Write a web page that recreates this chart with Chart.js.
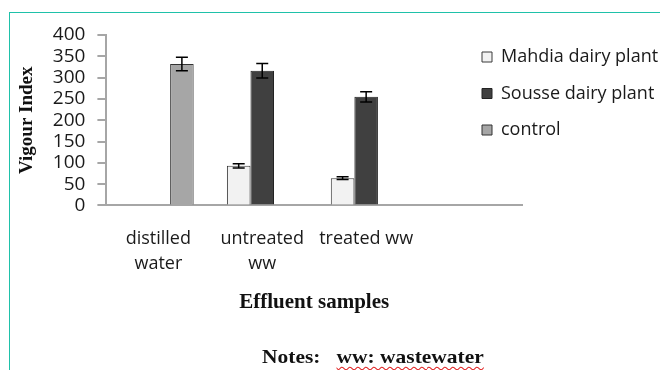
<!DOCTYPE html>
<html>
<head>
<meta charset="utf-8">
<script src="https://cdn.jsdelivr.net/npm/chart.js@4/dist/chart.umd.min.js"></script>
<style>
  body { margin: 0; background: #fff; }
  #wrap { position: relative; width: 660px; height: 370px; overflow: hidden; }
  #frame { position: absolute; left: 9px; top: 12px; width: 660px; height: 370px;
           border-top: 1px solid #1fc1a9; border-left: 1.5px solid #1fc1a9; }
  #notes { position: absolute; left: 262px; top: 346px; font: bold 19px "Liberation Serif", serif;
           color: #111; white-space: pre; transform: scaleX(1.13); transform-origin: 0 0; }
  #notes span { text-decoration: underline wavy #e02020; text-decoration-thickness: 1px; text-underline-offset: 3px; }
  canvas { position: absolute; left: 0; top: 0; }
</style>
</head>
<body>
<div id="wrap">
  <div id="frame"></div>
  <canvas id="barChart" width="660" height="370"></canvas>
  <div id="notes">Notes:   <span>ww: wastewater</span></div>
</div>
<script>
"use strict";

const categories = [['distilled', 'water'], ['untreated', 'ww'], 'treated ww', ''];
const seriesNames = ['Mahdia dairy plant', 'Sousse dairy plant', 'control'];
const mahdia = [null, 93, 64, null];
const sousse = [null, 316, 255, null];
const control = [332, null, null, null];
const mahdiaErr = [null, 5, 3, null];
const sousseErr = [null, 17, 12, null];
const controlErr = [16, null, null, null];
const yTicks = [0, 50, 100, 150, 200, 250, 300, 350, 400];

const errors = [mahdiaErr, sousseErr, controlErr];

// draws the error bars from the y scale
const errorBars = {
    id: 'errorBars',
    afterDatasetsDraw(chart) {
        const ctx = chart.ctx;
        const y = chart.scales.y;
        ctx.save();
        ctx.strokeStyle = '#000';
        ctx.lineWidth = 1.5;
        chart.data.datasets.forEach((ds, i) => {
            const meta = chart.getDatasetMeta(i);
            ds.data.forEach((v, j) => {
                const e = errors[i][j];
                if (v == null || e == null) return;
                const x = meta.data[j].x;
                const top = y.getPixelForValue(v + e);
                const bot = y.getPixelForValue(v - e);
                ctx.beginPath();
                ctx.moveTo(x, top); ctx.lineTo(x, bot);
                ctx.moveTo(x - 6, top); ctx.lineTo(x + 6, top);
                ctx.moveTo(x - 6, bot); ctx.lineTo(x + 6, bot);
                ctx.stroke();
            });
        });
        ctx.restore();
    }
};

// put the legend where the original has it, over the right part of the plot
const legendSpot = {
    id: 'legendSpot',
    afterLayout(chart) {
        const lg = chart.legend;
        lg.left = 463.5; lg.top = 29.5; lg.right = 660; lg.bottom = 200;
        lg.width = lg.right - lg.left; lg.height = lg.bottom - lg.top;
    }
};

const tickFont = { family: '"Open Sans", sans-serif', size: 18, lineHeight: 1.4 };

const barCtx = document.getElementById('barChart');
new Chart(barCtx, {
    type: 'bar',
    data: {
        labels: categories,
        datasets: [{
            label: seriesNames[0],
            data: mahdia,
            backgroundColor: '#f2f2f2',
            borderColor: '#3a3a3a',
            borderWidth: 1
        }, {
            label: seriesNames[1],
            data: sousse,
            backgroundColor: '#404040',
            borderColor: '#222',
            borderWidth: 1
        }, {
            label: seriesNames[2],
            data: control,
            backgroundColor: '#a6a6a6',
            borderColor: '#333',
            borderWidth: 1
        }]
    },
    options: {
        responsive: false,
        animation: false,
        layout: { padding: { left: 10, top: 35, right: 138, bottom: 51 } },
        datasets: { bar: { barPercentage: 1, categoryPercentage: 0.68 } },
        plugins: {
            legend: {
                position: 'chartArea',
                align: 'start',
                labels: {
                    boxWidth: 10,
                    boxHeight: 10,
                    padding: 18.5,
                    color: '#1a1a1a',
                    font: { family: '"Open Sans", sans-serif', size: 18 }
                }
            },
            tooltip: { enabled: false }
        },
        scales: {
            x: {
                grid: { display: false, drawTicks: false },
                border: { color: '#a6a6a6', width: 2 },
                ticks: { color: '#1a1a1a', font: tickFont, padding: 21, maxRotation: 0, autoSkip: false },
                title: {
                    display: true,
                    text: 'Effluent samples',
                    color: '#111',
                    font: { family: '"Liberation Serif", serif', size: 21, weight: 'bold' },
                    padding: { top: -8, bottom: 4 }
                }
            },
            y: {
                min: 0,
                max: 400,
                afterBuildTicks(scale) { scale.ticks = yTicks.map(v => ({ value: v })); },
                grid: { drawOnChartArea: false, tickLength: 9, color: '#a6a6a6', lineWidth: 2 },
                border: { color: '#a6a6a6', width: 2 },
                ticks: { color: '#1a1a1a', font: { family: '"Open Sans", sans-serif', size: 19 }, padding: 12, autoSkip: false },
                title: {
                    display: true,
                    text: 'Vigour Index',
                    color: '#111',
                    font: { family: '"Liberation Serif", serif', size: 19, weight: 'bold' },
                    padding: { top: 6, bottom: 2 }
                }
            }
        }
    },
    plugins: [errorBars, legendSpot]
});
</script>
</body>
</html>
